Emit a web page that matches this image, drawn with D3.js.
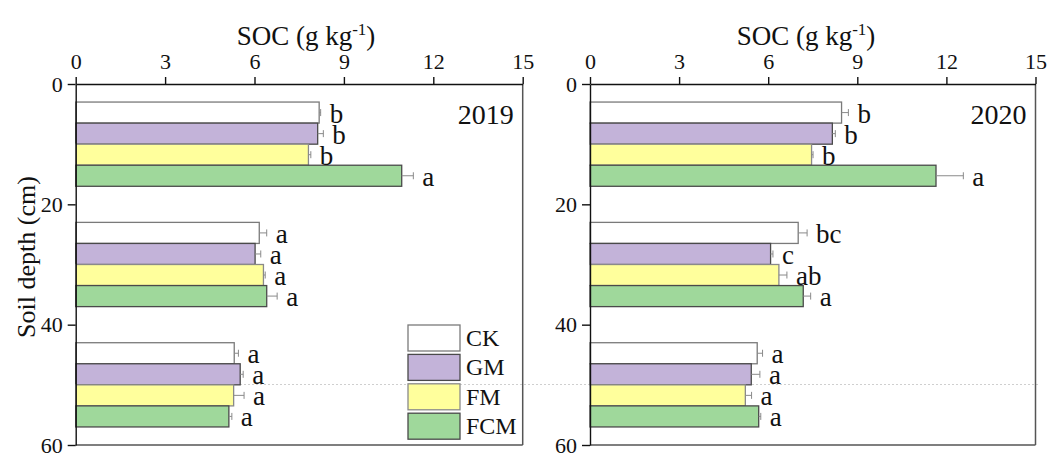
<!DOCTYPE html>
<html><head><meta charset="utf-8">
<script src="https://cdn.jsdelivr.net/npm/d3@7"></script>
<style>
body{margin:0;background:#fff}
svg{display:block}
text{font-family:"Liberation Serif","Times New Roman",serif;fill:#111}
</style>
</head><body>
<svg id="chart" width="1051" height="453"></svg>
<script>
// Soil organic carbon by depth layer and treatment, two sampling years
const treatments = ["CK", "GM", "FM", "FCM"];
const depthCenters = [10, 30, 50];
const depthTicks = [0, 20, 40, 60];
const socTicks = [0, 3, 6, 9, 12, 15];
const years = ["2019", "2020"];

const soc2019 = [[8.17, 8.12, 7.81, 10.94], [6.16, 6.02, 6.30, 6.41], [5.32, 5.52, 5.30, 5.14]];
const err2019 = [[0.05, 0.19, 0.08, 0.39], [0.25, 0.19, 0.06, 0.35], [0.14, 0.10, 0.35, 0.10]];
const sig2019 = [["b", "b", "b", "a"], ["a", "a", "a", "a"], ["a", "a", "a", "a"]];

const soc2020 = [[8.47, 8.16, 7.46, 11.65], [7.01, 6.08, 6.36, 7.18], [5.63, 5.43, 5.23, 5.68]];
const err2020 = [[0.23, 0.10, 0.05, 0.92], [0.30, 0.08, 0.27, 0.25], [0.18, 0.29, 0.21, 0.07]];
const sig2020 = [["b", "b", "b", "a"], ["bc", "c", "ab", "a"], ["a", "a", "a", "a"]];

const fills = ["#ffffff", "#c3b3d9", "#ffff9c", "#9fd89b"];
const edges = ["#7a7a7a", "#4a4a4a", "#8a8a8a", "#4a4a4a"];

const svg = d3.select("#chart");
const plotTop = 84, plotBottom = 445;
const y = d3.scaleLinear().domain([0, 60]).range([plotTop, plotBottom]);
const groupHalf = 7; // half height of each depth group, in cm

const panels = [
  {year: years[0], soc: soc2019, err: err2019, sig: sig2019, x0: 75.7, x1: 522.7, titleX: 306, legend: true},
  {year: years[1], soc: soc2020, err: err2020, sig: sig2020, x0: 590, x1: 1035.5, titleX: 806, legend: false}
];

// faint dotted rule running across both panels
svg.append("line")
  .attr("x1", 76).attr("x2", 1040).attr("y1", 384.5).attr("y2", 384.5)
  .attr("stroke", "#cfcfcf").attr("stroke-width", 1).attr("stroke-dasharray", "2,2");

panels.forEach(p => {
  const x = d3.scaleLinear().domain([0, 15]).range([p.x0, p.x1]);
  const g = svg.append("g");

  depthCenters.forEach((c, gi) => {
    const band = d3.scaleBand().domain(treatments)
      .range([y(c - groupHalf), y(c + groupHalf)]).padding(0);
    const rows = treatments.map((t, i) => ({
      t, i, v: p.soc[gi][i], e: p.err[gi][i], s: p.sig[gi][i]
    }));

    g.selectAll(null).data(rows).enter().append("rect")
      .attr("x", x(0))
      .attr("y", d => band(d.t))
      .attr("width", d => x(d.v) - x(0))
      .attr("height", band.bandwidth())
      .attr("fill", d => fills[d.i])
      .attr("stroke", d => edges[d.i])
      .attr("stroke-width", 1.3);

    const eb = g.selectAll(null).data(rows).enter().append("g")
      .attr("stroke", "#8a8a8a").attr("stroke-width", 1);
    eb.append("line")
      .attr("x1", d => x(d.v)).attr("x2", d => x(d.v + d.e))
      .attr("y1", d => band(d.t) + band.bandwidth() / 2)
      .attr("y2", d => band(d.t) + band.bandwidth() / 2);
    eb.append("line")
      .attr("x1", d => x(d.v + d.e)).attr("x2", d => x(d.v + d.e))
      .attr("y1", d => band(d.t) + band.bandwidth() / 2 - 3.5)
      .attr("y2", d => band(d.t) + band.bandwidth() / 2 + 3.5);

    g.selectAll(null).data(rows).enter().append("text")
      .attr("x", d => x(d.v + d.e) + 9)
      .attr("y", d => band(d.t) + band.bandwidth() - 0.5)
      .attr("font-size", 27)
      .text(d => d.s);
  });

  // frame: right and bottom borders
  g.append("line").attr("x1", p.x1).attr("x2", p.x1).attr("y1", plotTop).attr("y2", plotBottom)
    .attr("stroke", "#555").attr("stroke-width", 1.5);
  g.append("line").attr("x1", p.x0).attr("x2", p.x1).attr("y1", plotBottom).attr("y2", plotBottom)
    .attr("stroke", "#555").attr("stroke-width", 1.5);

  // top SOC axis
  const ax = g.append("g").attr("transform", `translate(0,${plotTop})`)
    .call(d3.axisTop(x).tickValues(socTicks).tickSize(7).tickSizeOuter(0).tickPadding(8));
  // left depth axis
  const ay = g.append("g").attr("transform", `translate(${p.x0},0)`)
    .call(d3.axisLeft(y).tickValues(depthTicks).tickSize(8).tickSizeOuter(0).tickPadding(5));
  [ax, ay].forEach(a => {
    a.selectAll("path,line").attr("stroke", "#111").attr("stroke-width", 1.4);
    a.selectAll("text").attr("font-size", 22).attr("font-family", "Liberation Serif").attr("fill", "#111");
  });

  // year label
  g.append("text").attr("x", p.x1 - 9).attr("y", 124).attr("text-anchor", "end")
    .attr("font-size", 28).text(p.year);

  // axis title with superscript
  const tt = g.append("text").attr("x", p.titleX).attr("y", 44.5)
    .attr("text-anchor", "middle").attr("font-size", 27);
  tt.append("tspan").text("SOC (g kg");
  tt.append("tspan").attr("font-size", 17).attr("dy", -10).text("-1");
  tt.append("tspan").attr("dy", 10).text(")");

  if (p.legend) {
    const lg = g.append("g");
    const items = lg.selectAll(null).data(treatments).enter().append("g")
      .attr("transform", (d, i) => `translate(408,${325 + i * 29.4})`);
    items.append("rect").attr("width", 52).attr("height", 26)
      .attr("fill", (d, i) => fills[i]).attr("stroke", (d, i) => edges[i]).attr("stroke-width", 1.3);
    items.append("text").attr("x", 58).attr("y", 21).attr("font-size", 24).text(d => d);
  }
});

// shared depth axis title
svg.append("text")
  .attr("transform", "translate(35,257) rotate(-90)")
  .attr("text-anchor", "middle").attr("font-size", 26)
  .text("Soil depth (cm)");
</script>
</body></html>
